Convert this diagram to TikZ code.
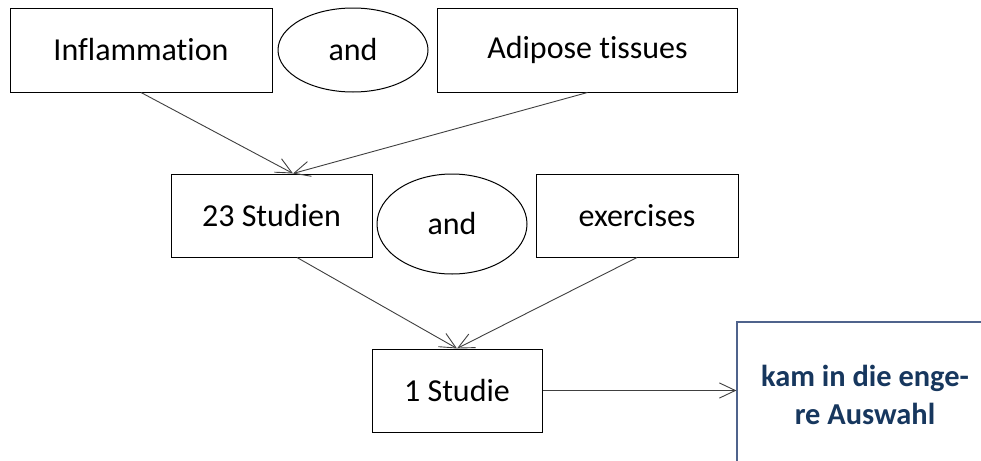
\documentclass[tikz,border=0pt]{standalone}
\usepackage{fontspec}
\setmainfont{Carlito}[Ligatures={NoCommon}]
\usetikzlibrary{shapes.geometric,arrows.meta,calc}
\definecolor{navytext}{RGB}{23,55,94}
\definecolor{slateborder}{RGB}{79,99,140}
\begin{document}
\begin{tikzpicture}[x=0.5pt,y=-0.5pt,
  box/.style={draw=black,line width=0.5pt,rectangle,inner sep=0pt,
    font=\fontsize{16}{19}\selectfont,text=black},
  andell/.style={draw=black,line width=0.5pt,ellipse,inner sep=0pt,
    minimum width=75pt,font=\fontsize{16}{19}\selectfont,text=black},
  conn/.style={draw=black!75,line width=0.45pt,
    -{Straight Barb[length=8pt,width=7.6pt,line width=0.45pt]}},
  result/.style={draw=slateborder,line width=0.6pt,rectangle,inner sep=0pt,
    minimum width=128pt,minimum height=73pt,align=center,text=navytext,
    font=\fontsize{15.2}{19}\selectfont\bfseries}]
\useasboundingbox (0,0) rectangle (981,461);
\clip (0,0) rectangle (981,461);
\fill[white] (0,0) rectangle (981,461);

\node[box,minimum width=131pt,minimum height=42pt] (inflam) at (141,50) {Inflammation};
\node[andell,minimum height=42pt] (and1) at (353,50) {and};
\node[box,minimum width=150pt,minimum height=42pt] (adip) at (587.5,50) {Adipose tissues};

\node[box,minimum width=100.5pt,minimum height=41.5pt] (stud23) at (271.5,215.5) {23 Studien};
\node[andell,minimum height=50pt] (and2) at (452,224) {and};
\node[box,minimum width=101pt,minimum height=41.5pt] (exerc) at (637,215.5) {exercises};

\node[box,minimum width=85pt,minimum height=41.5pt] (studie1) at (457,390.5) {1 Studie};

\node[result] (auswahl) at (865,395) {kam in die enge-\\re Auswahl};

\coordinate (t1) at ([xshift=10.75pt]stud23.north);
\draw[conn] (inflam.south) -- (t1);
\draw[conn] (adip.south) -- (t1);

\coordinate (s2) at ([xshift=12.75pt]stud23.south);
\draw[conn] (s2) -- (studie1.north);
\draw[conn] (exerc.south) -- (studie1.north);

\draw[conn] (studie1.east) -- (studie1.east -| auswahl.west);
\end{tikzpicture}
\end{document}
